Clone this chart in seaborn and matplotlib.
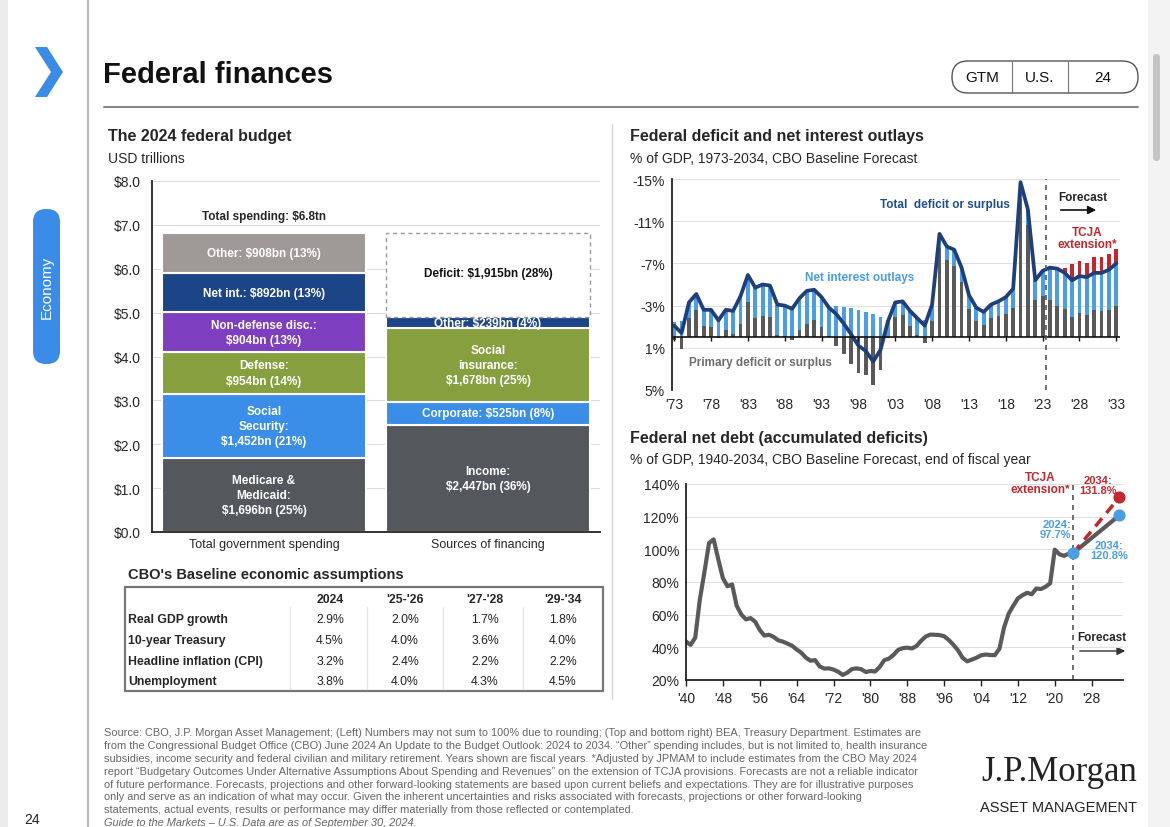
import numpy as np
import pandas as pd
import matplotlib
matplotlib.use("Agg")
import matplotlib.pyplot as plt
import seaborn as sns
from matplotlib.patches import FancyBboxPatch, Polygon, Rectangle

# ---------------- data ----------------
# left: 2024 federal budget (USD trillions)
spend_labels = ["Medicare &\nMedicaid:\n$1,696bn (25%)", "Social\nSecurity:\n$1,452bn (21%)",
                "Defense:\n$954bn (14%)", "Non-defense disc.:\n$904bn (13%)",
                "Net int.: $892bn (13%)", "Other: $908bn (13%)"]
spend_values = [1.696, 1.452, 0.954, 0.904, 0.892, 0.908]
fin_labels = ["Income:\n$2,447bn (36%)", "Corporate: $525bn (8%)",
              "Social\ninsurance:\n$1,678bn (25%)", "Other: $239bn (4%)",
              "Deficit: $1,915bn (28%)"]
fin_values = [2.447, 0.525, 1.678, 0.239, 1.915]
budget_cats = ["Total government spending", "Sources of financing"]

# top right: deficit and net interest, % of GDP (positive = deficit)
def_years = list(range(1973, 2034))
primary = [-0.3, -1.1, 1.8, 2.6, 1.1, 1.0, -0.1, 0.7, 0.3, 1.3,
           3.3, 1.8, 2.0, 1.9, 0.2, 0.1, -0.3, 0.7, 1.3, 1.6,
           1.0, 0.1, -0.8, -1.6, -2.5, -3.4, -3.6, -4.5, -3.1, -0.1,
           1.9, 2.1, 1.1, 0.2, -0.5, 1.5, 8.5, 7.3, 6.8, 5.2,
           2.7, 1.5, 1.2, 1.8, 2.0, 2.2, 2.8, 13.1, 10.6, 3.5,
           3.9, 3.5, 3.0, 2.7, 1.9, 2.3, 2.1, 2.6, 2.5, 2.6, 3.0]
interest = [1.4, 1.5, 1.5, 1.5, 1.5, 1.6, 1.7, 1.9, 2.2, 2.6,
            2.6, 2.9, 3.0, 3.0, 2.9, 2.9, 3.0, 3.0, 3.1, 2.9,
            2.8, 2.7, 3.0, 2.9, 2.8, 2.6, 2.4, 2.2, 1.9, 1.6,
            1.4, 1.3, 1.4, 1.6, 1.6, 1.6, 1.3, 1.3, 1.5, 1.4,
            1.3, 1.3, 1.2, 1.3, 1.4, 1.6, 1.8, 1.6, 1.5, 1.9,
            2.4, 3.1, 3.5, 3.4, 3.5, 3.5, 3.6, 3.5, 3.6, 3.8, 4.0]
total_deficit = [1.1, 0.4, 3.3, 4.1, 2.6, 2.6, 1.6, 2.6, 2.5, 3.9,
                 5.9, 4.7, 5.0, 4.9, 3.1, 3.0, 2.7, 3.7, 4.4, 4.5,
                 3.8, 2.8, 2.2, 1.3, 0.3, -0.8, -1.3, -2.3, -1.2, 1.5,
                 3.3, 3.4, 2.5, 1.8, 1.1, 3.1, 9.8, 8.6, 8.3, 6.6,
                 4.0, 2.8, 2.4, 3.1, 3.4, 3.8, 4.6, 14.7, 12.1, 5.4,
                 6.3, 6.6, 6.5, 6.1, 5.4, 5.8, 5.7, 6.1, 6.1, 6.4, 7.0]
tcja_years = list(range(2025, 2034))
tcja_deficit = [6.6, 6.6, 6.9, 7.2, 7.0, 7.6, 7.6, 7.9, 8.4]

# bottom right: federal net debt, % of GDP
debt_years = list(range(1940, 2025))
debt = [43.6, 41.5, 45.9, 69.2, 86.1, 103.9, 106.1, 93.9, 82.4, 77.4,
        78.5, 65.4, 60.1, 57.1, 57.9, 55.7, 50.6, 47.2, 47.7, 46.4,
        44.3, 43.5, 42.3, 41.0, 38.7, 36.7, 33.7, 31.8, 32.2, 28.3,
        27.0, 27.1, 26.4, 25.1, 23.1, 24.5, 26.7, 27.1, 26.6, 24.9,
        25.5, 25.2, 27.9, 32.1, 33.1, 35.3, 38.4, 39.5, 39.8, 39.3,
        40.8, 44.0, 46.6, 47.8, 47.7, 47.5, 46.8, 44.5, 41.6, 38.2,
        33.6, 31.4, 32.5, 33.6, 35.1, 35.6, 35.3, 35.2, 39.2, 52.2,
        60.6, 65.5, 70.0, 71.9, 73.4, 72.5, 76.0, 75.7, 77.1, 79.2,
        99.8, 97.0, 96.0, 97.3, 97.7]
fc_years = [2024, 2034]
fc_baseline = [97.7, 120.8]
fc_tcja = [97.7, 131.8]

# table
tbl_cols = ["2024", "'25-'26", "'27-'28", "'29-'34"]
tbl_rows = ["Real GDP growth", "10-year Treasury", "Headline inflation (CPI)", "Unemployment"]
tbl_vals = [["2.9%", "2.0%", "1.7%", "1.8%"],
            ["4.5%", "4.0%", "3.6%", "4.0%"],
            ["3.2%", "2.4%", "2.2%", "2.2%"],
            ["3.8%", "4.0%", "4.3%", "4.5%"]]

footnote = [
    "Source: CBO, J.P. Morgan Asset Management; (Left) Numbers may not sum to 100% due to rounding; (Top and bottom right) BEA, Treasury Department. Estimates are",
    "from the Congressional Budget Office (CBO) June 2024 An Update to the Budget Outlook: 2024 to 2034. \u201cOther\u201d spending includes, but is not limited to, health insurance",
    "subsidies, income security and federal civilian and military retirement. Years shown are fiscal years. *Adjusted by JPMAM to include estimates from the CBO May 2024",
    "report \u201cBudgetary Outcomes Under Alternative Assumptions About Spending and Revenues\u201d on the extension of TCJA provisions. Forecasts are not a reliable indicator",
    "of future performance. Forecasts, projections and other forward-looking statements are based upon current beliefs and expectations. They are for illustrative purposes",
    "only and serve as an indication of what may occur. Given the inherent uncertainties and risks associated with forecasts, projections or other forward-looking",
    "statements, actual events, results or performance may differ materially from those reflected or contemplated.",
]

# ---------------- style ----------------
sns.set_theme(style="white")
plt.rcParams["font.family"] = ["Liberation Sans", "DejaVu Sans"]

W, H = 1170, 828
fig = plt.figure(figsize=(W / 100, H / 100), dpi=100)
fig.patch.set_facecolor("white")

# page layer in pixel coordinates
page = fig.add_axes([0, 0, 1, 1])
page.set_xlim(0, W)
page.set_ylim(H, 0)
page.axis("off")


def px_axes(l, t, r, b):
    a = fig.add_axes([l / W, 1 - b / H, (r - l) / W, (b - t) / H])
    a.set_facecolor("none")
    return a


BLUE_UI = "#3b8be8"
page.add_patch(Rectangle((0, 0), 8, H, color="#ececec", lw=0))
page.add_patch(Rectangle((1148, 0), 22, H, color="#f3f3f3", lw=0))
page.add_patch(FancyBboxPatch((1153, 55), 7, 107, boxstyle="round,pad=0,rounding_size=3.5",
                              color="#c4c4c4", lw=0))
page.plot([88, 88], [0, H], color="#b5b5b5", lw=1.5)
page.add_patch(Polygon([(35, 48), (47, 48), (63, 73), (47, 98), (35, 98), (51, 73)],
                       closed=True, color=BLUE_UI, lw=0))
page.add_patch(FancyBboxPatch((33, 210), 27, 155, boxstyle="round,pad=0,rounding_size=13",
                              color=BLUE_UI, lw=0))
page.text(46.5, 287, "Economy", rotation=90, color="white", fontsize=11, ha="center", va="center")
page.text(24, 820, "24", fontsize=10, color="#222", va="center")

page.text(103, 75, "Federal finances", fontsize=21, fontweight="bold", va="center", color="#111")
page.add_patch(FancyBboxPatch((952, 62), 186, 32, boxstyle="round,pad=0,rounding_size=16",
                              facecolor="white", edgecolor="#555", lw=1))
page.plot([1012, 1012], [62, 94], color="#777", lw=0.8)
page.plot([1068, 1068], [62, 94], color="#777", lw=0.8)
for x, s in [(982, "GTM"), (1040, "U.S."), (1103, "24")]:
    page.text(x, 78, s, fontsize=11, ha="center", va="center", color="#111")
page.plot([104, 1138], [108, 108], color="#8a8a8a", lw=1.5)
page.plot([612, 612], [125, 700], color="#d5d5d5", lw=1)

# panel titles
page.text(108, 137, "The 2024 federal budget", fontsize=11.5, fontweight="bold", va="center")
page.text(108, 159, "USD trillions", fontsize=10, va="center")
page.text(630, 137, "Federal deficit and net interest outlays", fontsize=11.5, fontweight="bold", va="center")
page.text(630, 159, "% of GDP, 1973-2034, CBO Baseline Forecast", fontsize=10, va="center")
page.text(630, 439, "Federal net debt (accumulated deficits)", fontsize=11.5, fontweight="bold", va="center")
page.text(630, 460, "% of GDP, 1940-2034, CBO Baseline Forecast, end of fiscal year", fontsize=10, va="center")

# ---------------- budget chart ----------------
DGRAY, SBLUE, GREEN, PURPLE, NAVY, TAUPE = "#54575b", "#3b8ee8", "#87a03f", "#7d3fc0", "#1c4587", "#9f9998"
ax1 = px_axes(152, 182, 600, 533)
spend_colors = [DGRAY, SBLUE, GREEN, PURPLE, NAVY, TAUPE]
fin_colors = [DGRAY, SBLUE, GREEN, NAVY, "white"]
bw = 0.91
for xpos, vals, labs, cols in [(0, spend_values, spend_labels, spend_colors),
                               (1, fin_values, fin_labels, fin_colors)]:
    bottom = 0
    for v, lab, c in zip(vals, labs, cols):
        if c == "white":
            bars = ax1.bar(xpos, v, bottom=bottom, width=bw, facecolor="white",
                           edgecolor="#9a9a9a", lw=1, linestyle=(0, (3, 2.5)))
            ax1.text(xpos, bottom + v * 0.53, lab, ha="center", va="center",
                     fontsize=8.5, fontweight="bold", color="#111")
        else:
            bars = ax1.bar(xpos, v, bottom=bottom, width=bw, color=c, edgecolor="white", lw=1.5)
            t = ax1.text(xpos, bottom + v / 2, lab, ha="center", va="center", fontsize=8.5,
                         fontweight="bold", color="white", linespacing=1.35)
            t.set_clip_path(bars.patches[0])
        bottom += v
ax1.text(0, 7.2, "Total spending: $6.8tn", ha="center", va="center", fontsize=8.5, fontweight="bold")
ax1.set_xlim(-0.5, 1.5)
ax1.set_ylim(0, 8)
ax1.set_yticks(np.arange(0, 9, 1))
ax1.set_yticklabels([f"${v:.1f}" for v in range(9)], fontsize=10)
ax1.set_xticks([0, 1])
ax1.set_xticklabels(budget_cats, fontsize=9)
ax1.tick_params(axis="both", length=0, pad=4)
ax1.tick_params(axis="y", pad=8)
ax1.yaxis.grid(True, color="#dddddd", lw=0.8)
ax1.set_axisbelow(True)
for s in ["top", "right"]:
    ax1.spines[s].set_visible(False)
for s in ["left", "bottom"]:
    ax1.spines[s].set_color("#222")
    ax1.spines[s].set_linewidth(1.3)

# ---------------- deficit chart ----------------
GBAR, LBLUE, RED, LINE = "#595959", "#4a9de6", "#c0282d", "#1f3f7a"
ax2 = px_axes(672, 180, 1120, 391)
dfd = pd.DataFrame({"year": def_years, "primary": primary, "interest": interest, "total": total_deficit})
ax2.bar(dfd["year"], -dfd["primary"], width=0.52, color=GBAR, lw=0)
ax2.bar(dfd["year"], -dfd["interest"], bottom=-dfd["primary"].clip(lower=0), width=0.52, color=LBLUE, lw=0)
base_fc = dfd.set_index("year").loc[tcja_years, "total"].values
ax2.bar(tcja_years, -(np.array(tcja_deficit) - base_fc), bottom=-base_fc, width=0.52, color=RED, lw=0)
sns.lineplot(x=dfd["year"], y=-dfd["total"], ax=ax2, color=LINE, lw=2.7)
ax2.axhline(0, color="#111", lw=1.2)
xt = list(range(1973, 2034, 5))
ax2.vlines(xt, 0, 0.35, color="#111", lw=1)
ax2.axvline(2023.5, color="#555", lw=1.2, ls=(0, (3, 3)))
ax2.set_xlim(1972.7, 2033.5)
ax2.set_ylim(5, -15)
ax2.set_yticks([-15, -11, -7, -3, 1, 5])
ax2.set_yticklabels([f"{v}%" for v in [-15, -11, -7, -3, 1, 5]], fontsize=10)
ax2.set_xticks(xt)
ax2.set_xticklabels([f"'{y % 100:02d}" for y in xt], fontsize=10)
ax2.tick_params(axis="both", length=0, pad=5)
ax2.set_xlabel("")
ax2.set_ylabel("")
ax2.yaxis.grid(True, color="#e0e0e0", lw=0.8)
ax2.set_axisbelow(True)
for s in ["top", "right", "bottom"]:
    ax2.spines[s].set_visible(False)
ax2.spines["left"].set_color("#222")
ax2.spines["left"].set_linewidth(1.3)

page.text(945, 205, "Total  deficit or surplus", color="#1f4e8c", fontsize=8.5, fontweight="bold", ha="center", va="center")
page.text(860, 278, "Net interest outlays", color=LBLUE, fontsize=8.5, fontweight="bold", ha="center", va="center")
page.text(760, 363, "Primary deficit or surplus", color="#6e6e6e", fontsize=8.5, fontweight="bold", ha="center", va="center")
page.text(1083, 198, "Forecast", fontsize=8.5, fontweight="bold", ha="center", va="center")
page.annotate("", xy=(1099, 211), xytext=(1058, 211),
              arrowprops=dict(arrowstyle="-|>", color="#111", lw=1.2, mutation_scale=12))
page.text(1087, 239, "TCJA\nextension*", color=RED, fontsize=8.5, fontweight="bold",
          ha="center", va="center", linespacing=1.1)

# ---------------- debt chart ----------------
ax3 = px_axes(686, 485, 1123, 681)
sns.lineplot(x=debt_years, y=debt, ax=ax3, color="#5a5a5a", lw=3)
sns.lineplot(x=fc_years, y=fc_baseline, ax=ax3, color="#5a5a5a", lw=3)
ax3.plot(fc_years, fc_tcja, color=RED, lw=2.5, ls=(0, (3, 2)))
ax3.axvline(2024, color="#555", lw=1.2, ls=(0, (3, 3)))
ax3.scatter([fc_years[1]], [fc_tcja[1]], s=60, color=RED, zorder=5, clip_on=False)
ax3.scatter(fc_years, fc_baseline, s=60, color=LBLUE, zorder=6, clip_on=False)
ax3.set_xlim(1940, 2034.8)
ax3.set_ylim(20, 140)
ax3.set_yticks(range(20, 141, 20))
ax3.set_yticklabels([f"{v}%" for v in range(20, 141, 20)], fontsize=10)
xt3 = list(range(1940, 2029, 8))
ax3.set_xticks(xt3)
ax3.set_xticklabels([f"'{y % 100:02d}" for y in xt3], fontsize=10)
ax3.tick_params(axis="y", length=0, pad=5)
ax3.tick_params(axis="x", length=4, width=1, color="#222", direction="out", pad=4, bottom=True)
ax3.set_xlabel("")
ax3.set_ylabel("")
ax3.yaxis.grid(True, color="#e0e0e0", lw=0.8)
ax3.set_axisbelow(True)
for s in ["top", "right"]:
    ax3.spines[s].set_visible(False)
for s in ["left", "bottom"]:
    ax3.spines[s].set_color("#222")
    ax3.spines[s].set_linewidth(1.3)

page.text(1040, 484, "TCJA\nextension*", color=RED, fontsize=8.5, fontweight="bold",
          ha="center", va="center", linespacing=1.1)
page.text(1098, 486, "2034:\n131.8%", color=RED, fontsize=8, fontweight="bold",
          ha="center", va="center", linespacing=1.1)
page.text(1071, 530, "2024:\n97.7%", color=LBLUE, fontsize=8, fontweight="bold",
          ha="right", va="center", linespacing=1.1)
page.text(1109, 551, "2034:\n120.8%", color=LBLUE, fontsize=8, fontweight="bold",
          ha="center", va="center", linespacing=1.1)
page.text(1077, 638, "Forecast", fontsize=8.5, fontweight="bold", ha="left", va="center")
page.annotate("", xy=(1128, 652), xytext=(1077, 652),
              arrowprops=dict(arrowstyle="-|>", color="#333", lw=1.0, mutation_scale=12))

# ---------------- table ----------------
page.text(128, 575, "CBO's Baseline economic assumptions", fontsize=10.5, fontweight="bold", va="center")
page.add_patch(Rectangle((125, 588), 478, 104, facecolor="white", edgecolor="#777", lw=1.6))
col_x = [330, 405, 485, 563]
for cx in [290, 367, 443, 523]:
    page.plot([cx, cx], [608, 690], color="#e6e6e6", lw=1)
for cx, h in zip(col_x, tbl_cols):
    page.text(cx, 600, h, fontsize=8.8, fontweight="bold", ha="center", va="center")
for ry, rl, vals in zip([620, 641, 662, 682], tbl_rows, tbl_vals):
    page.text(128, ry, rl, fontsize=8.8, fontweight="bold", va="center")
    for cx, v in zip(col_x, vals):
        page.text(cx, ry, v, fontsize=8.8, ha="center", va="center", color="#222")

# ---------------- footer ----------------
for i, line in enumerate(footnote):
    page.text(104, 733 + i * 12.9, line, fontsize=7.9, color="#666", va="center")
page.text(104, 823, "Guide to the Markets \u2013 U.S. Data are as of September 30, 2024.",
          fontsize=7.9, color="#666", va="center", style="italic")
page.text(1059, 773, "J.P.Morgan", family=["Liberation Serif", "DejaVu Serif"], fontsize=25,
          ha="center", va="center", color="#222")
page.text(1059, 808, "ASSET MANAGEMENT", fontsize=10.5, ha="center", va="center", color="#222")

fig.savefig("out.png", dpi=100)
